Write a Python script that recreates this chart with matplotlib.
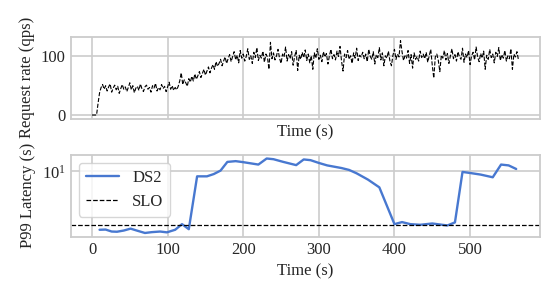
import numpy as np
import matplotlib
matplotlib.use("Agg")
import matplotlib.pyplot as plt
import seaborn as sns

# ---- data ----
rate_t = np.arange(0, 566, 2)
rate_qps = [
    0, 0, 0, 0, 20, 38, 47, 52, 44, 50, 41, 48, 53, 39, 46, 51, 43, 49, 37, 45,
    52, 44, 48, 40, 47, 55, 43, 50, 38, 46, 49, 42, 53, 45, 40, 48, 51, 44, 47, 39,
    50, 46, 54, 41, 47, 43, 52, 45, 49, 40, 48, 56, 44, 50, 42, 47, 43, 49, 58, 72,
    52, 60, 55, 49, 62, 56, 66, 58, 70, 61, 67, 74, 64, 71, 78, 68, 75, 82, 72, 80,
    86, 78, 91, 83, 88, 95, 84, 92, 99, 88, 96, 103, 91, 100, 108, 94, 102, 89, 110, 97,
    104, 92, 100, 113, 95, 101, 88, 107, 98, 115, 93, 102, 97, 109, 90, 104, 99, 78, 124, 96,
    106, 94, 101, 112, 97, 88, 104, 99, 116, 92, 103, 96, 108, 85, 100, 110, 76, 102, 95, 107,
    98, 111, 93, 104, 89, 101, 78, 106, 97, 113, 95, 102, 91, 108, 99, 105, 87, 101, 112, 96,
    103, 94, 109, 100, 117, 92, 75, 104, 98, 110, 95, 101, 88, 106, 97, 114, 93, 102, 99, 107,
    96, 104, 91, 112, 100, 95, 108, 87, 103, 98, 115, 94, 106, 84, 101, 97, 109, 92, 84, 102,
    112, 95, 104, 99, 127, 108, 93, 101, 97, 110, 88, 103, 80, 106, 95, 100, 92, 109, 98, 104,
    96, 107, 90, 101, 112, 85, 63, 99, 104, 93, 74, 102, 97, 110, 94, 105, 88, 101, 113, 96,
    103, 92, 108, 99, 95, 114, 90, 104, 98, 110, 86, 101, 107, 94, 116, 99, 91, 105, 97, 109,
    78, 102, 95, 112, 98, 104, 89, 107, 100, 115, 93, 103, 97, 110, 92, 101, 96, 113, 78, 104,
    99, 108, 94,
]

lat_t = [10, 18, 26, 33, 42, 51, 60, 70, 79, 90, 99, 110, 119, 128, 139, 152, 161, 170,
         179, 190, 200, 220, 231, 240, 253, 270, 280, 289, 300, 311, 330, 340, 350, 365,
         380, 400, 410, 421, 434, 450, 470, 480, 490, 500, 514, 530, 541, 551, 561]
lat_ds2 = [1.76, 1.77, 1.67, 1.66, 1.72, 1.82, 1.71, 1.60, 1.64, 1.67, 1.63, 1.76, 2.08,
           1.79, 8.6, 8.6, 9.2, 10.2, 13.2, 13.5, 13.1, 12.2, 14.6, 14.3, 13.2, 12.0, 14.2,
           13.9, 12.8, 11.9, 11.0, 10.4, 9.4, 7.8, 6.2, 2.08, 2.21, 2.08, 2.04, 2.12, 2.0,
           2.19, 9.8, 9.5, 9.06, 8.36, 12.2, 11.9, 10.7]
slo = 2.0

# ---- style ----
sns.set_style("whitegrid")
plt.rcParams["font.family"] = ["Liberation Serif", "DejaVu Serif"]
plt.rcParams["mathtext.fontset"] = "stix"
plt.rcParams["font.size"] = 12
plt.rcParams["axes.linewidth"] = 1.3
plt.rcParams["grid.linewidth"] = 1.2
plt.rcParams["axes.edgecolor"] = "#cccccc"
plt.rcParams["grid.color"] = "#cccccc"

fig, (ax1, ax2) = plt.subplots(2, 1, sharex=True, figsize=(5.48, 3.07), dpi=100)
fig.subplots_adjust(left=0.129, right=0.985, top=0.880, bottom=0.229, hspace=0.44)

ax1.plot(rate_t, rate_qps, color="black", linestyle="--", linewidth=0.8)
ax1.set_ylabel("Request rate (qps)")
ax1.set_xlabel("Time (s)")
ax1.set_yticks([0, 100])

ax2.plot(lat_t, lat_ds2, color="#4878d0", linewidth=1.7, label="DS2")
ax2.axhline(slo, color="black", linestyle="--", linewidth=0.9, label="SLO")
ax2.set_yscale("log")
ax2.set_ylabel("P99 Latency (s)")
ax2.set_xlabel("Time (s)")
ax2.set_xticks([0, 100, 200, 300, 400, 500])
ax2.minorticks_off()
ax2.legend(loc="upper left")

for ax in (ax1, ax2):
    ax.tick_params(labelsize=12, length=0)
    ax.xaxis.label.set_size(12)
    ax.yaxis.label.set_size(12)
    ax.yaxis.labelpad = 4

fig.savefig("out.png", dpi=100)
